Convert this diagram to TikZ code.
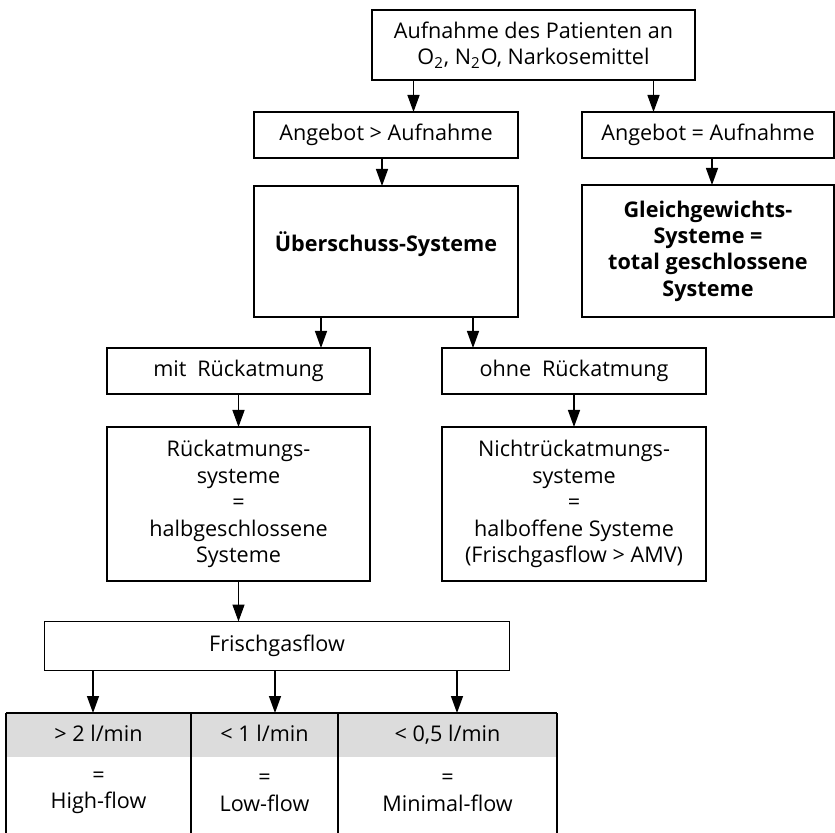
\documentclass[tikz,border=0pt]{standalone}
\usepackage{fontspec}
\setmainfont{Open Sans}
\usepackage{tikz}
\usetikzlibrary{arrows.meta,positioning,calc}
\definecolor{hgray}{HTML}{DCDCDC}

\begin{document}
\begin{tikzpicture}[x=0.5pt,y=-0.5pt,
    every node/.style={align=center,font=\fontsize{10.8}{13.2}\selectfont,
                       inner sep=0pt,outer sep=0pt},
    box/.style={draw,line width=0.7pt},
    arr/.style={line width=0.7pt,-{Triangle[length=8.5pt,width=6pt]}},
    cell/.style={minimum height=22pt,text height=1.6ex,text depth=0.4ex}]
  \useasboundingbox (0,0) rectangle (835,833);
  \node[box,minimum width=161.5pt,minimum height=35pt] (auf) at (533.5,45)
    {Aufnahme des Patienten an\\O\textsubscript{2}, N\textsubscript{2}O, Narkosemittel};
  \node[box,minimum width=132pt,minimum height=23pt] (ang1) at (386,135)
    {Angebot > Aufnahme};
  \node[box,minimum width=126pt,minimum height=23pt] (ang2) at (708,135)
    {Angebot = Aufnahme};
  \node[box,minimum width=132pt,text height=33pt,text depth=32.5pt] (ueber) at (386,251.5)
    {\textbf{Überschuss-Systeme}};
  \node[box,minimum width=126pt,minimum height=66pt] (gleich) at (708,251)
    {\textbf{Gleichgewichts-}\\\textbf{Systeme =}\\\textbf{total geschlossene}\\\textbf{Systeme}};
  \node[box,minimum width=131.5pt,minimum height=23pt] (mit) at (238.5,371)
    {mit\enspace Rückatmung};
  \node[box,minimum width=132pt,minimum height=23pt] (ohne) at (574,371)
    {ohne\enspace Rückatmung};
  \node[box,minimum width=131.5pt,minimum height=77pt] (rueck) at (238.5,504)
    {Rückatmungs-\\systeme\\=\\halbgeschlossene\\Systeme};
  \node[box,minimum width=132pt,minimum height=77pt] (nicht) at (574,504)
    {Nichtrückatmungs-\\systeme\\=\\halboffene Systeme\\(Frischgasflow > AMV)};
  \node[box,minimum width=232.5pt,minimum height=24.5pt] (frisch) at (277,646)
    {Frischgasflow};
  \node[cell,fill=hgray,minimum width=92.5pt] (h1) at (98.5,735) {> 2 l/min};
  \node[cell,fill=hgray,minimum width=73.5pt] (h2) at (264.5,735) {< 1 l/min};
  \node[cell,fill=hgray,minimum width=109.5pt] (h3) at (447.5,735) {< 0,5 l/min};
  \node (v1) at (98.5,793) {=\\High-flow};
  \node (v2) at (264.5,793) {=\\Low-flow};
  \node (v3) at (447.5,793) {=\\Minimal-flow};
  \coordinate (tb) at (0,840);
  \draw[line width=0.7pt] (h1.north west) -- (h3.north east);
  \foreach \c in {h1.north west,h2.north west,h3.north west,h3.north east}
    \draw[line width=0.7pt] (\c) -- (\c |- tb);
  \draw[arr] ([xshift=-60pt]auf.south) -- ([xshift=-60pt]auf.south |- ang1.north);
  \draw[arr] ([xshift=60pt]auf.south) -- ([xshift=60pt]auf.south |- ang2.north);
  \draw[arr] ([xshift=-2pt]ang1.south) -- ([xshift=-2pt]ueber.north);
  \draw[arr] ([xshift=2pt]ang2.south) -- ([xshift=2pt]gleich.north);
  \draw[arr] ([xshift=-32.5pt]ueber.south) -- ([xshift=-32.5pt]ueber.south |- mit.north);
  \draw[arr] ([xshift=43.5pt]ueber.south) -- ([xshift=43.5pt]ueber.south |- ohne.north);
  \draw[arr] (mit) -- (rueck);
  \draw[arr] (ohne) -- (nicht);
  \draw[arr] (rueck.south) -- (rueck.south |- frisch.north);
  \draw[arr] ([xshift=-92pt]frisch.south) -- ([xshift=-92pt]frisch.south |- h1.north);
  \draw[arr] ([xshift=-1pt]frisch.south) -- ([xshift=-1pt]frisch.south |- h2.north);
  \draw[arr] ([xshift=90pt]frisch.south) -- ([xshift=90pt]frisch.south |- h3.north);
\end{tikzpicture}
\end{document}
